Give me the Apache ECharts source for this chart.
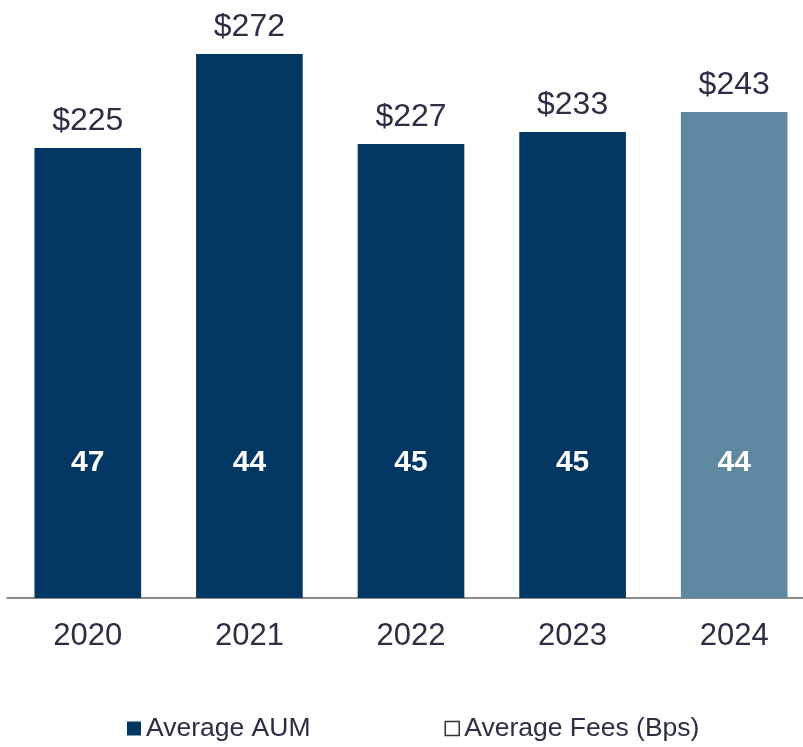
<!DOCTYPE html>
<html>
<head>
<meta charset="utf-8">
<script src="https://cdn.jsdelivr.net/npm/echarts@6/dist/echarts.min.js"></script>
<style>
  html, body { margin: 0; padding: 0; background: #fff; }
  #chart { width: 803px; height: 747px; }
</style>
</head>
<body>
<div id="chart"></div>
<script>
var years = ['2020', '2021', '2022', '2023', '2024'];
var avgAum = [225, 272, 227, 233, 243];
var avgFees = [47, 44, 45, 45, 44];

var darkBlue = '#033763';
var lightBlue = '#5f88a1';
var textColor = '#2b2e44';

var chart = echarts.init(document.getElementById('chart'));

var aumData = avgAum.map(function (v, i) {
    return {
        value: v,
        itemStyle: { color: i === avgAum.length - 1 ? lightBlue : darkBlue }
    };
});

var option = {
    animation: false,
    grid: { left: 7, width: 808, top: 38, bottom: 149, containLabel: false, outerBoundsMode: 'none' },
    legend: {
        left: 122,
        bottom: 0,
        itemGap: 134,
        itemWidth: 14,
        itemHeight: 14,
        textStyle: { color: textColor, fontSize: 26.5, fontFamily: 'Liberation Sans' },
        data: [
            { name: 'Average AUM', icon: 'rect', itemStyle: { color: darkBlue } },
            { name: 'Average Fees (Bps)', icon: 'rect', itemStyle: { color: '#fff', borderColor: '#000', borderWidth: 1.5 } }
        ]
    },
    xAxis: {
        type: 'category',
        data: years,
        axisLine: { lineStyle: { color: '#666', width: 1.5 } },
        axisTick: { show: false },
        axisLabel: { color: textColor, fontSize: 31, fontFamily: 'Liberation Sans', margin: 23 }
    },
    yAxis: {
        type: 'value',
        min: 0,
        max: 280,
        show: false
    },
    series: [
        {
            name: 'Average AUM',
            type: 'bar',
            barWidth: '66%',
            itemStyle: { color: darkBlue },
            data: aumData,
            label: {
                show: true,
                position: 'top',
                distance: 11,
                color: textColor,
                fontSize: 32,
                fontFamily: 'Liberation Sans',
                formatter: function (p) { return '$' + p.value; }
            },
            z: 2
        },
        {
            name: 'Average AUM',
            type: 'bar',
            barWidth: '66%',
            barGap: '-100%',
            itemStyle: { color: 'transparent' },
            data: avgAum,
            label: {
                show: true,
                position: 'insideBottom',
                distance: 120,
                color: '#fff',
                fontSize: 30,
                fontWeight: 'bold',
                fontFamily: 'Liberation Sans',
                formatter: function (p) { return avgFees[p.dataIndex]; }
            },
            tooltip: { show: false },
            z: 3
        },
        {
            name: 'Average Fees (Bps)',
            type: 'scatter',
            data: [],
            itemStyle: { color: '#fff', borderColor: '#000', borderWidth: 1.5 }
        }
    ]
};
chart.setOption(option);
</script>
</body>
</html>
